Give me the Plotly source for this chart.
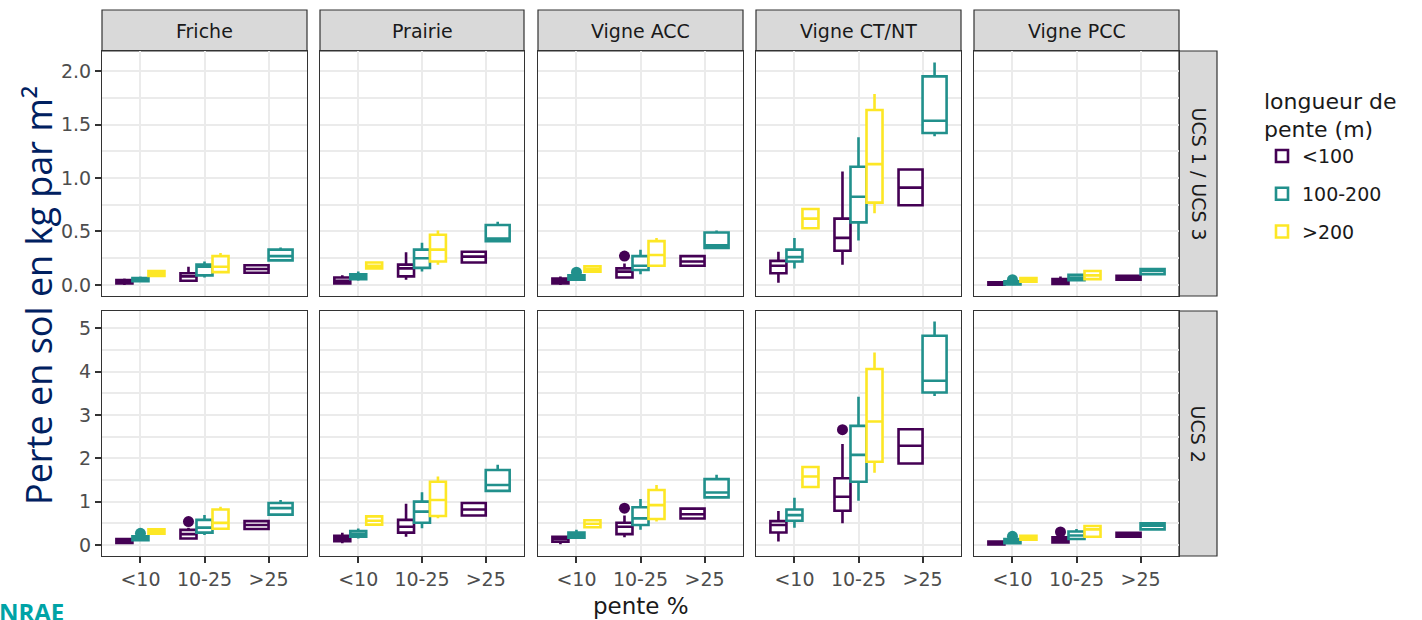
import plotly.graph_objects as go

W, H = 1422, 620

# ---------------------------------------------------------------- data
LAND_USES = ["Friche", "Prairie", "Vigne ACC", "Vigne CT/NT", "Vigne PCC"]
SOIL_ROWS = ["UCS 1 / UCS 3", "UCS 2"]
SLOPES = ["<10", "10-25", ">25"]
LENGTHS = ["<100", "100-200", ">200"]
COLORS = ["#440154", "#21908C", "#FDE725"]

# Box statistics: (lower whisker, Q1, median, Q3, upper whisker)
# one entry per land use, each with one box per slope class (<10, 10-25, >25)
ROW1_LT100 = [
    [(0.00, 0.015, 0.03, 0.045, 0.06), (0.03, 0.04, 0.08, 0.11, 0.17), (0.11, 0.115, 0.15, 0.185, 0.19)],
    [(0.01, 0.015, 0.04, 0.07, 0.09), (0.05, 0.08, 0.155, 0.19, 0.305), (0.20, 0.21, 0.265, 0.31, 0.32)],
    [(0.00, 0.015, 0.04, 0.06, 0.08), (0.06, 0.07, 0.125, 0.155, 0.20), (0.17, 0.18, 0.22, 0.27, 0.28)],
    [(0.02, 0.11, 0.18, 0.225, 0.31), (0.19, 0.32, 0.44, 0.62, 1.06), (0.74, 0.745, 0.91, 1.08, 1.085)],
    [(0.00, 0.002, 0.01, 0.025, 0.03), (0.00, 0.01, 0.035, 0.055, 0.08), (0.045, 0.05, 0.07, 0.085, 0.09)],
]
ROW1_100_200 = [
    [(0.03, 0.035, 0.05, 0.065, 0.08), (0.07, 0.09, 0.17, 0.19, 0.22), (0.22, 0.23, 0.27, 0.33, 0.35)],
    [(0.04, 0.055, 0.08, 0.10, 0.125), (0.125, 0.16, 0.25, 0.33, 0.395), (0.40, 0.41, 0.435, 0.56, 0.59)],
    [(0.04, 0.05, 0.07, 0.09, 0.10), (0.10, 0.14, 0.18, 0.27, 0.33), (0.34, 0.345, 0.37, 0.49, 0.51)],
    [(0.155, 0.22, 0.26, 0.33, 0.44), (0.415, 0.585, 0.825, 1.105, 1.38), (1.39, 1.42, 1.535, 1.95, 2.08)],
    [(0.00, 0.005, 0.02, 0.035, 0.04), (0.04, 0.045, 0.07, 0.095, 0.10), (0.095, 0.10, 0.13, 0.15, 0.155)],
]
ROW1_GT200 = [
    [(0.08, 0.085, 0.11, 0.13, 0.135), (0.11, 0.12, 0.17, 0.27, 0.30), None],
    [(0.15, 0.155, 0.18, 0.21, 0.215), (0.19, 0.22, 0.33, 0.47, 0.51), None],
    [(0.12, 0.125, 0.15, 0.175, 0.18), (0.17, 0.18, 0.28, 0.41, 0.44), None],
    [(0.52, 0.53, 0.62, 0.71, 0.72), (0.67, 0.77, 1.13, 1.635, 1.785), None],
    [(0.025, 0.03, 0.05, 0.065, 0.07), (0.05, 0.055, 0.09, 0.13, 0.135), None],
]
ROW2_LT100 = [
    [(0.04, 0.05, 0.10, 0.14, 0.17), (0.13, 0.15, 0.25, 0.35, 0.40), (0.36, 0.37, 0.46, 0.55, 0.56)],
    [(0.04, 0.09, 0.15, 0.21, 0.28), (0.19, 0.285, 0.42, 0.58, 0.95), (0.67, 0.68, 0.82, 0.97, 0.98)],
    [(0.02, 0.075, 0.14, 0.19, 0.22), (0.18, 0.25, 0.42, 0.515, 0.68), (0.60, 0.61, 0.71, 0.84, 0.85)],
    [(0.08, 0.29, 0.46, 0.55, 0.785), (0.50, 0.79, 1.115, 1.54, 2.33), (1.87, 1.88, 2.29, 2.67, 2.68)],
    [(0.00, 0.01, 0.05, 0.08, 0.09), (0.055, 0.06, 0.12, 0.18, 0.19), (0.18, 0.19, 0.235, 0.28, 0.29)],
]
ROW2_100_200 = [
    [(0.10, 0.11, 0.15, 0.20, 0.23), (0.23, 0.285, 0.40, 0.58, 0.69), (0.69, 0.70, 0.85, 0.97, 1.04)],
    [(0.15, 0.19, 0.25, 0.32, 0.38), (0.385, 0.515, 0.77, 1.00, 1.22), (1.24, 1.25, 1.385, 1.73, 1.85)],
    [(0.16, 0.17, 0.23, 0.285, 0.35), (0.35, 0.46, 0.615, 0.87, 1.06), (1.09, 1.10, 1.21, 1.52, 1.62)],
    [(0.40, 0.56, 0.69, 0.82, 1.09), (1.02, 1.46, 2.08, 2.75, 3.42), (3.44, 3.52, 3.79, 4.83, 5.16)],
    [(0.03, 0.04, 0.10, 0.14, 0.15), (0.12, 0.14, 0.22, 0.31, 0.37), (0.35, 0.36, 0.445, 0.50, 0.515)],
]
ROW2_GT200 = [
    [(0.25, 0.26, 0.30, 0.36, 0.375), (0.35, 0.375, 0.51, 0.82, 0.88), None],
    [(0.46, 0.47, 0.56, 0.66, 0.67), (0.62, 0.67, 1.04, 1.46, 1.58), None],
    [(0.40, 0.41, 0.49, 0.57, 0.58), (0.54, 0.60, 0.92, 1.27, 1.385), None],
    [(1.33, 1.34, 1.58, 1.80, 1.81), (1.67, 1.92, 2.85, 4.06, 4.44), None],
    [(0.115, 0.12, 0.17, 0.21, 0.215), (0.18, 0.19, 0.36, 0.44, 0.44), None],
]

# outliers: (soil row, land use, slope class, slope length, value)
OUTLIERS = [
    (0, "Vigne ACC", "<10", "100-200", 0.12),
    (0, "Vigne ACC", "10-25", "<100", 0.27),
    (0, "Vigne PCC", "<10", "100-200", 0.05),
    (1, "Friche", "<10", "100-200", 0.27),
    (1, "Friche", "10-25", "<100", 0.54),
    (1, "Vigne ACC", "10-25", "<100", 0.85),
    (1, "Vigne CT/NT", "10-25", "<100", 2.66),
    (1, "Vigne PCC", "<10", "100-200", 0.20),
    (1, "Vigne PCC", "10-25", "<100", 0.30),
]

Y_TICKS = [[0, 0.5, 1.0, 1.5, 2.0], [0, 1, 2, 3, 4, 5]]
Y_FORMAT = [".1f", "d"]

ROWS_DATA = [[ROW1_LT100, ROW1_100_200, ROW1_GT200],
             [ROW2_LT100, ROW2_100_200, ROW2_GT200]]

# ---------------------------------------------------------------- layout geometry (pixels)
PANEL_X = [(102, 307), (320, 524), (538, 743), (756, 961), (974, 1179)]
ROW_Y = [(51, 296), (311, 556)]
Y_RANGE = [[-0.103, 2.187], [-0.254, 5.40]]
Y_MINOR = [0.25, 0.5]
STRIP_TOP = 10
STRIP_RIGHT = 1217


def fx(p):
    return p / W


def fy(p):
    return 1 - p / H


TEXT_FONT = "DejaVu Sans"
GRID = "#EBEBEB"
DARK = "#333333"

fig = go.Figure()


def axis_names(r, c):
    i = r * 5 + c + 1
    s = "" if i == 1 else str(i)
    return "x" + s, "y" + s, "xaxis" + s, "yaxis" + s


def dodge(s, k, n):
    w = 0.75 / n
    return s + 1 - 0.375 + w * (k + 0.5), w


legend_done = set()
for r in range(2):
    for c, lu in enumerate(LAND_USES):
        xn, yn, _, _ = axis_names(r, c)
        for s, sl in enumerate(SLOPES):
            present = [g for g in range(3) if ROWS_DATA[r][g][c][s] is not None]
            for k, g in enumerate(present):
                lo, q1, med, q3, hi = ROWS_DATA[r][g][c][s]
                x, w = dodge(s, k, len(present))
                show = g not in legend_done
                legend_done.add(g)
                fig.add_trace(go.Box(
                    x=[x], q1=[q1], median=[med], q3=[q3],
                    lowerfence=[lo], upperfence=[hi],
                    width=w, whiskerwidth=0, boxpoints=False,
                    line=dict(color=COLORS[g], width=2.6),
                    fillcolor="white",
                    name=LENGTHS[g], legendgroup=LENGTHS[g],
                    showlegend=show, legendrank=g + 1,
                    xaxis=xn, yaxis=yn,
                    hoverinfo="y",
                ))
                outs = [o[4] for o in OUTLIERS
                        if o[0] == r and o[1] == lu and o[2] == sl and o[3] == LENGTHS[g]]
                if outs:
                    fig.add_trace(go.Scatter(
                        x=[x] * len(outs), y=outs, mode="markers",
                        marker=dict(color=COLORS[g], size=11),
                        showlegend=False, legendgroup=LENGTHS[g],
                        xaxis=xn, yaxis=yn, hoverinfo="y",
                    ))

layout = {}
shapes = []
annotations = []
for r in range(2):
    y0, y1 = ROW_Y[r]
    for c in range(5):
        x0, x1 = PANEL_X[c]
        xn, yn, xa, ya = axis_names(r, c)
        layout[xa] = dict(
            domain=[fx(x0), fx(x1)], range=[0.4, 3.6], anchor=yn,
            tickmode="array", tickvals=[1, 2, 3], ticktext=SLOPES,
            showticklabels=(r == 1), ticks="outside" if r == 1 else "",
            ticklen=6, tickwidth=1.5, tickcolor=DARK,
            tickfont=dict(family=TEXT_FONT, size=19, color="#4D4D4D"),
            showgrid=True, gridcolor=GRID, gridwidth=2, zeroline=False,
            showline=True, mirror=True, linecolor=DARK, linewidth=1.2,
        )
        layout[ya] = dict(
            domain=[fy(y1), fy(y0)], range=Y_RANGE[r], anchor=xn,
            tickmode="array", tickvals=Y_TICKS[r], tickformat=Y_FORMAT[r],
            showticklabels=(c == 0), ticks="outside" if c == 0 else "",
            ticklen=6, tickwidth=1.5, tickcolor=DARK,
            tickfont=dict(family=TEXT_FONT, size=19, color="#4D4D4D"),
            showgrid=True, gridcolor=GRID, gridwidth=2, zeroline=False,
            minor=dict(dtick=Y_MINOR[r], tick0=0, showgrid=True,
                       gridcolor=GRID, gridwidth=1.5, ticks=""),
            showline=True, mirror=True, linecolor=DARK, linewidth=1.2,
        )

# facet strips (top: land use)
for c, lu in enumerate(LAND_USES):
    x0, x1 = PANEL_X[c]
    shapes.append(dict(type="rect", xref="paper", yref="paper",
                       x0=fx(x0), x1=fx(x1), y0=fy(ROW_Y[0][0]), y1=fy(STRIP_TOP),
                       fillcolor="#D9D9D9", line=dict(color=DARK, width=1.2), layer="below"))
    annotations.append(dict(text=lu, xref="paper", yref="paper",
                            x=fx((x0 + x1) / 2), y=fy((STRIP_TOP + ROW_Y[0][0]) / 2),
                            showarrow=False, xanchor="center", yanchor="middle",
                            font=dict(family=TEXT_FONT, size=19, color="#1A1A1A")))
# facet strips (right: soil)
for r, soil in enumerate(SOIL_ROWS):
    y0, y1 = ROW_Y[r]
    shapes.append(dict(type="rect", xref="paper", yref="paper",
                       x0=fx(PANEL_X[-1][1]), x1=fx(STRIP_RIGHT), y0=fy(y1), y1=fy(y0),
                       fillcolor="#D9D9D9", line=dict(color=DARK, width=1.2), layer="below"))
    annotations.append(dict(text=soil, xref="paper", yref="paper",
                            x=fx((PANEL_X[-1][1] + STRIP_RIGHT) / 2), y=fy((y0 + y1) / 2),
                            showarrow=False, textangle=90, xanchor="center", yanchor="middle",
                            font=dict(family=TEXT_FONT, size=19, color="#1A1A1A")))

# axis titles
annotations.append(dict(text="pente %", xref="paper", yref="paper",
                        x=fx((PANEL_X[0][0] + PANEL_X[-1][1]) / 2), y=fy(606),
                        showarrow=False, xanchor="center", yanchor="middle",
                        font=dict(family=TEXT_FONT, size=23, color="#1A1A1A")))
annotations.append(dict(text="Perte en sol en kg par m²", xref="paper", yref="paper",
                        x=fx(38), y=fy(296), showarrow=False, textangle=-90,
                        xanchor="center", yanchor="middle",
                        font=dict(family="Open Sans", size=36, color="#002060")))
# logo remnant
annotations.append(dict(text="<b>INRAE</b>", xref="paper", yref="paper",
                        x=fx(-11), y=fy(611), showarrow=False,
                        xanchor="left", yanchor="middle",
                        font=dict(family="Open Sans", size=24, color="#00A3A6")))

fig.update_layout(
    width=W, height=H,
    margin=dict(l=0, r=0, t=0, b=0),
    paper_bgcolor="white", plot_bgcolor="white",
    font=dict(family=TEXT_FONT, color="#1A1A1A"),
    boxmode="overlay",
    shapes=shapes, annotations=annotations,
    legend=dict(
        title=dict(text="longueur de<br>pente (m)",
                   font=dict(family=TEXT_FONT, size=22, color="#1A1A1A")),
        font=dict(family=TEXT_FONT, size=19, color="#1A1A1A"),
        x=fx(1262), y=fy(80), xanchor="left", yanchor="top",
        traceorder="grouped", tracegroupgap=10,
        bgcolor="rgba(0,0,0,0)",
    ),
    **layout,
)

fig.write_html("out.html")
